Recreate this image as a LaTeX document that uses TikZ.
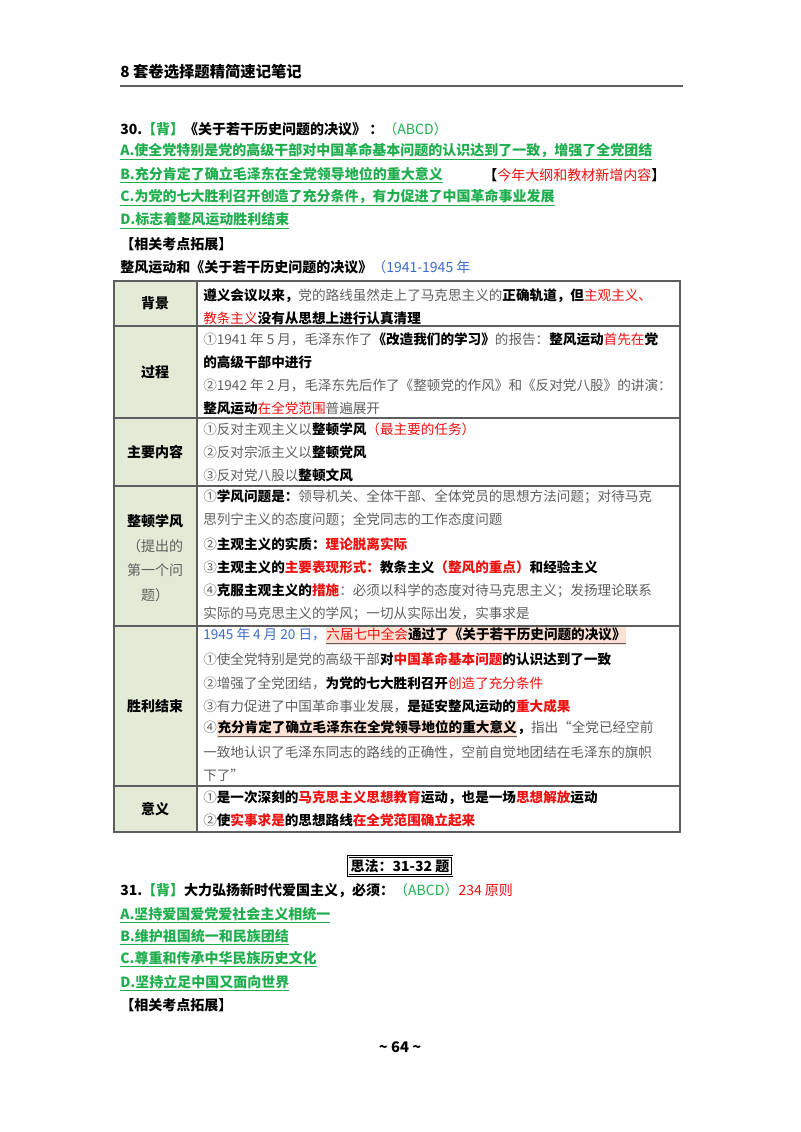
\documentclass[tikz,border=0pt]{standalone}
\usepackage{fontspec}
\setmainfont{Noto Sans CJK SC}
\definecolor{gn}{HTML}{1FAE4E}
\definecolor{rd}{HTML}{F01010}
\definecolor{bl}{HTML}{3A6CC8}
\definecolor{gy}{HTML}{5E5E5E}
\definecolor{lab}{HTML}{E3EBD6}
\definecolor{pk}{HTML}{FBE2D5}
\newcommand\xr[1]{\textcolor{rd}{#1}}
\newcommand\xb[1]{\textcolor{black}{\textbf{#1}}}
\newcommand\xg[1]{\textcolor{gn}{\textbf{\underline{#1}}}}
\newcommand\xh[1]{{\setlength{\fboxsep}{0.5pt}\colorbox{pk}{#1}}}
\tikzset{
 txt/.style={anchor=west,inner sep=0pt,font=\fontsize{10.5}{12}\selectfont},
 cell/.style={anchor=west,inner sep=0pt,font=\fontsize{10.2}{12}\selectfont,text=gy},
 labc/.style={inner sep=0pt,font=\fontsize{10.5}{12}\selectfont\bfseries},
 grid/.style={draw=gy,line width=0.8pt}
}
\begin{document}
\begin{tikzpicture}[x=0.75pt,y=-0.75pt]
\useasboundingbox (0,0) rectangle (800,1132);
% header
\node[txt,font=\fontsize{11.5}{13}\selectfont\bfseries] (hd) at (120,72) {8 套卷选择题精简速记笔记};
\draw[draw=gy,line width=1.6pt] (120,86) -- (683,86);
% question 30
\node[txt] (q30) at (120,129) {\textbf{30.}\textcolor{gn}{\textbf{【背】}}\textbf{《关于若干历史问题的决议》 ：}\textcolor{gn}{（ABCD）}};
\node[txt] (qa) at (120,152) {\xg{A.使全党特别是党的高级干部对中国革命基本问题的认识达到了一致，增强了全党团结}};
\node[txt] (qb) at (120,175) {\xg{B.充分肯定了确立毛泽东在全党领导地位的重大意义}};
\node[txt] (qbn) at (483,175) {\textbf{【}\xr{今年大纲和教材新增内容}\textbf{】}};
\node[txt] (qc) at (120,198) {\xg{C.为党的七大胜利召开创造了充分条件，有力促进了中国革命事业发展}};
\node[txt] (qd) at (120,221) {\xg{D.标志着整风运动胜利结束}};
\node[txt] (rel1) at (120,244) {\textbf{【相关考点拓展】}};
\node[txt] (ttl) at (120,267) {\textbf{整风运动和《关于若干历史问题的决议》}\textcolor{bl}{（1941-1945 年}};
% table
\fill[lab] (114,281) rectangle (197,832);
\draw[grid] (114,281) rectangle (680,832);
\draw[grid] (197,281) -- (197,832);
\foreach \yy in {326,418,486,626,786} \draw[grid] (114,\yy) -- (680,\yy);
% labels
\node[labc] (l1) at (155,303) {背景};
\node[labc] (l2) at (155,372) {过程};
\node[labc] (l3) at (155,452) {主要内容};
\node[labc] (l4) at (155,521) {整顿学风};
\node[labc,font=\fontsize{10.5}{12}\selectfont,text=gy] (l4b) at (155,546) {（提出的};
\node[labc,font=\fontsize{10.5}{12}\selectfont,text=gy] (l4c) at (155,570) {第一个问};
\node[labc,font=\fontsize{10.5}{12}\selectfont,text=gy] (l4d) at (155,595) {题）};
\node[labc] (l5) at (155,706) {胜利结束};
\node[labc] (l6) at (155,809) {意义};
% row 1
\node[cell] (r1a) at (203,296) {\xb{遵义会议以来，}党的路线虽然走上了马克思主义的\xb{正确轨道，但}\xr{主观主义、}};
\node[cell] (r1b) at (203,318) {\xr{教条主义}\xb{没有从思想上进行认真清理}};
% row 2
\node[cell] (r2a) at (203,339) {①1941 年 5 月，毛泽东作了\xb{《改造我们的学习》}的报告：\xb{整风运动}\xr{首先在}\xb{党}};
\node[cell] (r2b) at (203,362) {\xb{的高级干部中进行}};
\node[cell] (r2c) at (203,385) {②1942 年 2 月，毛泽东先后作了《整顿党的作风》和《反对党八股》的讲演：};
\node[cell] (r2d) at (203,408) {\xb{整风运动}\xr{在全党范围}普遍展开};
% row 3
\node[cell] (r3a) at (203,429) {①反对主观主义以\xb{整顿学风}\xr{（最主要的任务）}};
\node[cell] (r3b) at (203,452) {②反对宗派主义以\xb{整顿党风}};
\node[cell] (r3c) at (203,475) {③反对党八股以\xb{整顿文风}};
% row 4
\node[cell] (r4a) at (203,497) {①\xb{学风问题是：}领导机关、全体干部、全体党员的思想方法问题；对待马克};
\node[cell] (r4b) at (203,520) {思列宁主义的态度问题；全党同志的工作态度问题};
\node[cell] (r4c) at (203,544) {②\xb{主观主义的实质：}\xr{\textbf{理论脱离实际}}};
\node[cell] (r4d) at (203,567) {③\xb{主观主义的}\xr{\textbf{主要表现形式：}}\xb{教条主义}\xr{\textbf{（整风的重点）}}\xb{和经验主义}};
\node[cell] (r4e) at (203,591) {④\xb{克服主观主义的}\xr{\textbf{措施}}：必须以科学的态度对待马克思主义；发扬理论联系};
\node[cell] (r4f) at (203,614) {实际的马克思主义的学风；一切从实际出发，实事求是};
% row 5
\node[cell] (r5a) at (203,636) {\textcolor{bl}{1945 年 4 月 20 日，}\xh{\underline{\xr{六届七中全会}\xb{通过了《关于若干历史问题的决议》}}}};
\node[cell] (r5b) at (203,659) {①使全党特别是党的高级干部\xb{对}\xr{\textbf{中国革命基本问题}}\xb{的认识达到了一致}};
\node[cell] (r5c) at (203,683) {②增强了全党团结，\xb{为党的七大胜利召开}\xr{创造了充分条件}};
\node[cell] (r5d) at (203,706) {③有力促进了中国革命事业发展，\xb{是延安整风运动的}\xr{\textbf{重大成果}}};
\node[cell] (r5e) at (203,729) {④\xh{\underline{\xb{充分肯定了确立毛泽东在全党领导地位的重大意义}}}\xb{，}指出“全党已经空前};
\node[cell] (r5f) at (203,752) {一致地认识了毛泽东同志的路线的正确性，空前自觉地团结在毛泽东的旗帜};
\node[cell] (r5g) at (203,775) {下了”};
% row 6
\node[cell] (r6a) at (203,798) {①\xb{是一次深刻的}\xr{\textbf{马克思主义思想教育}}\xb{运动，也是一场}\xr{\textbf{思想解放}}\xb{运动}};
\node[cell] (r6b) at (203,820) {②\xb{使}\xr{\textbf{实事求是}}\xb{的思想路线}\xr{\textbf{在全党范围确立起来}}};
% section box
\node[draw=black,line width=0.8pt,inner sep=2pt,font=\fontsize{10.5}{12}\selectfont\bfseries,double=white,double distance=0.6pt] (sf) at (400,866) {思法：31-32 题};
% question 31
\node[txt] (q31) at (120,891) {\textbf{31.}\textcolor{gn}{\textbf{【背】}}\textbf{大力弘扬新时代爱国主义，必须：}\textcolor{gn}{（ABCD）}\xr{234 原则}};
\node[txt] (pa) at (120,915) {\xg{A.坚持爱国爱党爱社会主义相统一}};
\node[txt] (pb) at (120,937) {\xg{B.维护祖国统一和民族团结}};
\node[txt] (pc) at (120,959) {\xg{C.尊重和传承中华民族历史文化}};
\node[txt] (pd) at (120,983) {\xg{D.坚持立足中国又面向世界}};
\node[txt] (rel2) at (120,1005) {\textbf{【相关考点拓展】}};
\node[inner sep=0pt,font=\fontsize{11}{13}\selectfont\bfseries] (pg) at (400,1047) {\textasciitilde{} 64 \textasciitilde{}};
\end{tikzpicture}
\end{document}
